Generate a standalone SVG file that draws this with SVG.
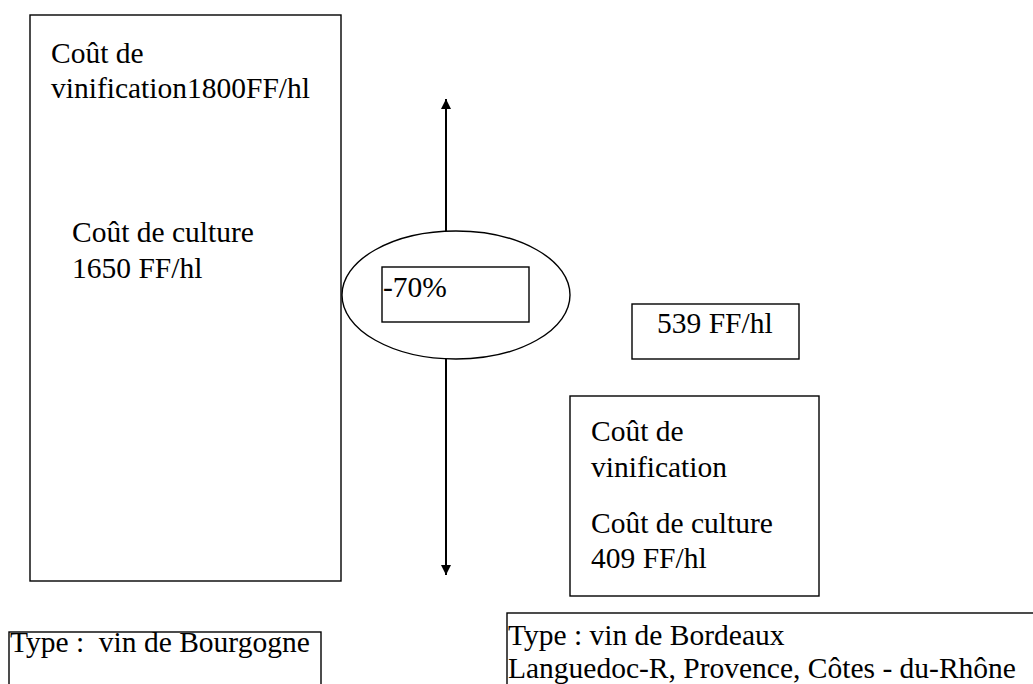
<svg xmlns="http://www.w3.org/2000/svg" width="1033" height="684" viewBox="0 0 1033 684">
<style>
.box{fill:#fff;stroke:#000;stroke-width:1.4}
.t{font-family:"Liberation Serif","Times New Roman",serif;font-size:29.5px;fill:#000}
.conn{stroke:#000;stroke-width:2;fill:none}
</style>
<defs>
<marker id="ah" viewBox="0 0 10 10" refX="10" refY="5" markerWidth="10" markerHeight="10" markerUnits="userSpaceOnUse" orient="auto">
<path d="M0,0 L10,5 L0,10 Z" fill="#000"/>
</marker>
</defs>
<rect width="1033" height="684" fill="#fff"/>
<g id="bourgogne-costs">
<rect class="box" x="30" y="15" width="311" height="566"/>
<text class="t" x="51" y="63">Coût de</text>
<text class="t" x="51" y="98">vinification1800FF/hl</text>
<text class="t" x="72" y="242">Coût de culture</text>
<text class="t" x="72" y="278">1650 FF/hl</text>
</g>
<g id="connectors">
<line class="conn" x1="446" y1="231" x2="446" y2="99" marker-end="url(#ah)"/>
<line class="conn" x1="446" y1="359" x2="446" y2="575" marker-end="url(#ah)"/>
</g>
<g id="reduction">
<ellipse cx="456" cy="295" rx="114" ry="64" fill="none" stroke="#000" stroke-width="1.4"/>
<rect class="box" x="382" y="267" width="147" height="55"/>
<text class="t" x="383" y="297">-70%</text>
</g>
<g id="total-539">
<rect class="box" x="632" y="304" width="167" height="55"/>
<text class="t" x="657" y="333">539 FF/hl</text>
</g>
<g id="bordeaux-costs">
<rect class="box" x="570" y="396" width="249" height="200"/>
<text class="t" x="591" y="441">Coût de</text>
<text class="t" x="591" y="477">vinification</text>
<text class="t" x="591" y="533">Coût de culture</text>
<text class="t" x="591" y="568">409 FF/hl</text>
</g>
<g id="type-bourgogne">
<rect class="box" x="9" y="632" width="312" height="70"/>
<text class="t" x="10" y="652" xml:space="preserve">Type :  vin de Bourgogne</text>
</g>
<g id="type-bordeaux">
<rect class="box" x="507" y="613" width="540" height="90"/>
<text class="t" x="508" y="645">Type : vin de Bordeaux</text>
<text class="t" x="508" y="678">Languedoc-R, Provence, Côtes - du-Rhône</text>
</g>
</svg>
